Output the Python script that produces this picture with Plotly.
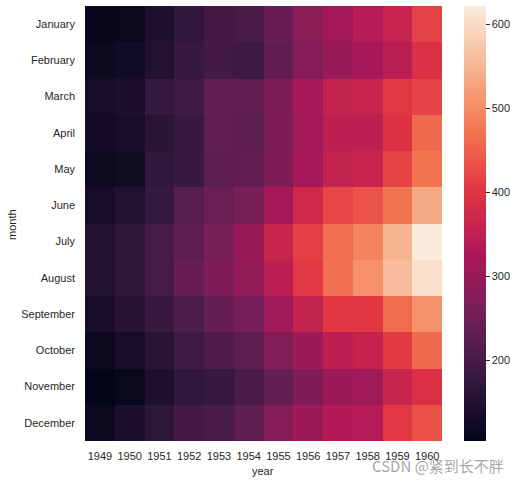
import plotly.graph_objects as go

years = ["1949", "1950", "1951", "1952", "1953", "1954", "1955", "1956", "1957", "1958", "1959", "1960"]
months = ["January", "February", "March", "April", "May", "June", "July", "August",
          "September", "October", "November", "December"]

# passengers per year (each list = Jan..Dec)
p1949 = [112, 118, 132, 129, 121, 135, 148, 148, 136, 119, 104, 118]
p1950 = [115, 126, 141, 135, 125, 149, 170, 170, 158, 133, 114, 140]
p1951 = [145, 150, 178, 163, 172, 178, 199, 199, 184, 162, 146, 166]
p1952 = [171, 180, 193, 181, 183, 218, 230, 242, 209, 191, 172, 194]
p1953 = [196, 196, 236, 235, 229, 243, 264, 272, 237, 211, 180, 201]
p1954 = [204, 188, 235, 227, 234, 264, 302, 293, 259, 229, 203, 229]
p1955 = [242, 233, 267, 269, 270, 315, 364, 347, 312, 274, 237, 278]
p1956 = [284, 277, 317, 313, 318, 374, 413, 405, 355, 306, 271, 306]
p1957 = [315, 301, 356, 348, 355, 422, 465, 467, 404, 347, 305, 336]
p1958 = [340, 318, 362, 348, 363, 435, 491, 505, 404, 359, 310, 337]
p1959 = [360, 342, 406, 396, 420, 472, 548, 559, 463, 407, 362, 405]
p1960 = [417, 391, 419, 461, 472, 535, 622, 606, 508, 461, 390, 432]

cols = [p1949, p1950, p1951, p1952, p1953, p1954, p1955, p1956, p1957, p1958, p1959, p1960]
z = [[c[i] for c in cols] for i in range(12)]

rocket = [
    [0.0, "#03051a"],
    [1/7, "#35193e"],
    [2/7, "#701f57"],
    [3/7, "#ad1759"],
    [4/7, "#e13342"],
    [5/7, "#f37651"],
    [6/7, "#f6b48f"],
    [1.0, "#faebdd"],
]

txt = "#262626"
font = "Liberation Sans, Arial, sans-serif"

L, R, T, B = 85, 35, 6, 41
W, H = 521, 482
pw, ph = W - L - R, H - T - B


def px(x):
    return (x - L) / pw


def py(y):
    return (H - B - y) / ph


fig = go.Figure(go.Heatmap(
    z=z, x=years, y=months, colorscale=rocket, zmin=104, zmax=622,
    colorbar=dict(
        x=px(464), xanchor="left", xref="paper", xpad=0, ypad=0,
        y=1, yanchor="top", lenmode="pixels", len=ph,
        thickness=22, thicknessmode="pixels", outlinewidth=0,
        tickvals=[200, 300, 400, 500, 600], ticks="outside", ticklen=4,
        tickcolor=txt, tickfont=dict(size=11, color=txt, family=font),
    ),
))

fig.update_layout(
    width=W, height=H,
    margin=dict(l=L, r=R, t=T, b=B, autoexpand=False),
    paper_bgcolor="white", plot_bgcolor="white",
    font=dict(family=font, size=11, color=txt),
    xaxis=dict(domain=[0, px(442)], showgrid=False, zeroline=False, automargin=False,
               ticks="", tickfont=dict(size=11), ticklabelstandoff=7),
    yaxis=dict(autorange="reversed", showgrid=False, zeroline=False, ticks="", automargin=False,
               tickfont=dict(size=11), ticklabelstandoff=9),
    annotations=[
        dict(text="year", x=px(263), y=py(471), xref="paper", yref="paper",
             showarrow=False, xanchor="center", yanchor="middle", font=dict(size=11, color=txt)),
        dict(text="month", x=px(12), y=py(225), xref="paper", yref="paper", textangle=-90,
             showarrow=False, xanchor="center", yanchor="middle", font=dict(size=11, color=txt)),
        dict(text="CSDN @紧到长不胖", x=px(506), y=py(465), xref="paper", yref="paper",
             showarrow=False, xanchor="right", yanchor="middle",
             font=dict(family="Noto Sans CJK SC", size=15, color="rgba(150,150,150,0.85)")),
    ],
)
fig.write_html("out.html", config={"displayModeBar": False},
               post_script="document.body.style.margin='0';")
